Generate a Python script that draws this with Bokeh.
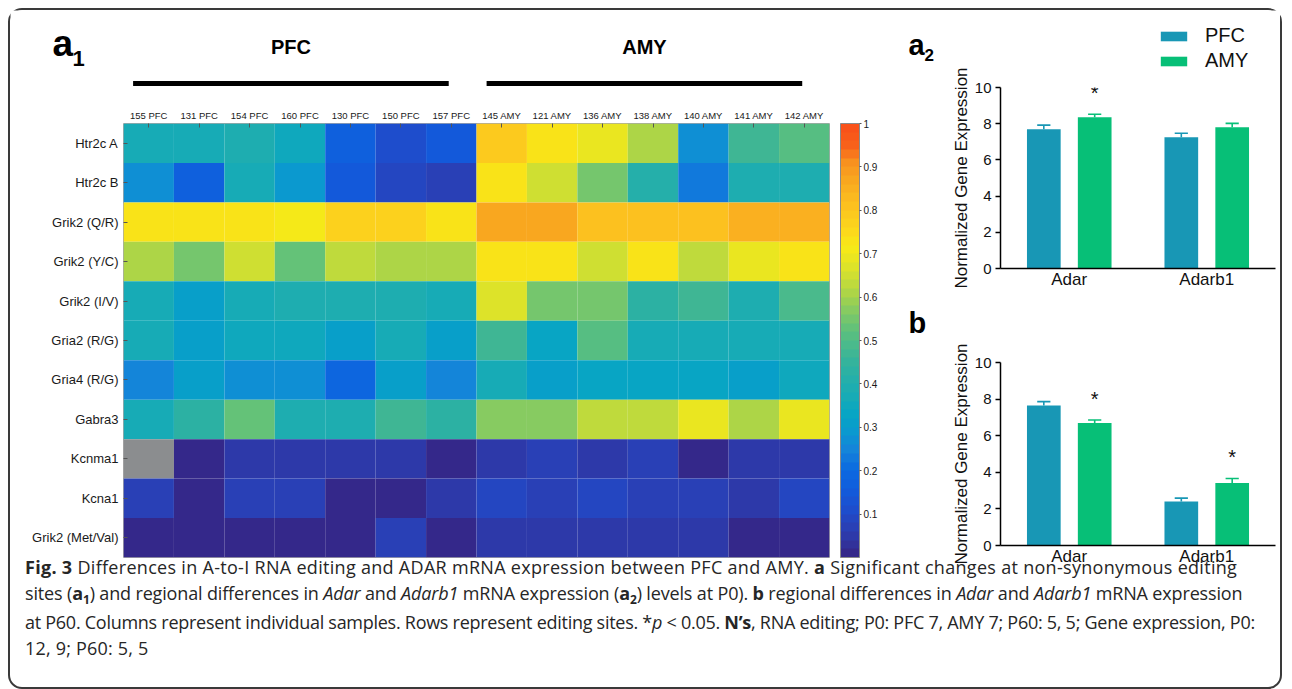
import numpy as np
from bokeh.plotting import figure
from bokeh.models import (ColumnDataSource, LinearColorMapper, ColorBar, FixedTicker, Range1d,
                          FactorRange, Label, Legend, LegendItem, Div, CustomJSTickFormatter)
from bokeh.transform import dodge
from bokeh.layouts import row, column
from bokeh.embed import file_html
from bokeh.resources import INLINE
from bokeh.core.properties import value

# ---------------- data ----------------
samples = ["155 PFC", "131 PFC", "154 PFC", "160 PFC", "130 PFC", "150 PFC", "157 PFC",
           "145 AMY", "121 AMY", "136 AMY", "138 AMY", "140 AMY", "141 AMY", "142 AMY"]
regions = ["PFC", "AMY"]
region_sizes = [7, 7]
sites = ["Htr2c A", "Htr2c B", "Grik2 (Q/R)", "Grik2 (Y/C)", "Grik2 (I/V)", "Gria2 (R/G)",
         "Gria4 (R/G)", "Gabra3", "Kcnma1", "Kcna1", "Grik2 (Met/Val)"]
nan = float("nan")
htr2c_a = [0.36, 0.36, 0.39, 0.35, 0.17, 0.10, 0.15, 0.79, 0.73, 0.68, 0.61, 0.27, 0.46, 0.50]
htr2c_b = [0.27, 0.16, 0.36, 0.28, 0.14, 0.09, 0.07, 0.73, 0.64, 0.55, 0.40, 0.23, 0.38, 0.38]
grik2_qr = [0.72, 0.72, 0.72, 0.70, 0.77, 0.77, 0.73, 0.87, 0.87, 0.81, 0.80, 0.81, 0.84, 0.84]
grik2_yc = [0.60, 0.54, 0.64, 0.53, 0.62, 0.60, 0.60, 0.72, 0.72, 0.64, 0.73, 0.62, 0.68, 0.72]
grik2_iv = [0.37, 0.31, 0.37, 0.38, 0.38, 0.38, 0.36, 0.67, 0.55, 0.55, 0.43, 0.47, 0.38, 0.48]
gria2_rg = [0.36, 0.31, 0.34, 0.35, 0.30, 0.36, 0.31, 0.46, 0.33, 0.50, 0.37, 0.37, 0.36, 0.36]
gria4_rg = [0.24, 0.31, 0.27, 0.27, 0.19, 0.31, 0.24, 0.36, 0.30, 0.33, 0.33, 0.32, 0.30, 0.35]
gabra3 = [0.37, 0.43, 0.52, 0.38, 0.38, 0.47, 0.43, 0.57, 0.58, 0.63, 0.63, 0.69, 0.60, 0.69]
kcnma1 = [nan, 0.01, 0.05, 0.05, 0.05, 0.05, 0.01, 0.04, 0.06, 0.04, 0.06, 0.01, 0.05, 0.04]
kcna1 = [0.06, 0.01, 0.06, 0.06, 0.01, 0.01, 0.05, 0.09, 0.06, 0.09, 0.06, 0.06, 0.05, 0.08]
grik2_metval = [0.01, 0.01, 0.01, 0.01, 0.01, 0.06, 0.01, 0.05, 0.05, 0.05, 0.05, 0.05, 0.01, 0.01]
editing_rows = [htr2c_a, htr2c_b, grik2_qr, grik2_yc, grik2_iv, gria2_rg, gria4_rg, gabra3,
                kcnma1, kcna1, grik2_metval]
colorbar_ticks = [0.1, 0.2, 0.3, 0.4, 0.5, 0.6, 0.7, 0.8, 0.9, 1.0]

genes = ["Adar", "Adarb1"]
p0_pfc = [7.70, 7.25]
p0_pfc_sem = [0.22, 0.22]
p0_amy = [8.35, 7.80]
p0_amy_sem = [0.17, 0.22]
p0_sig = [True, False]
p60_pfc = [7.65, 2.40]
p60_pfc_sem = [0.21, 0.19]
p60_amy = [6.70, 3.42]
p60_amy_sem = [0.16, 0.24]
p60_sig = [True, True]
bar_ticks = [0, 2, 4, 6, 8, 10]

# ---------------- style ----------------
FONT = "Liberation Sans"
PFC_COLOR = "#1897b5"
AMY_COLOR = "#07bf77"
anchors = [(0.00, "#34288a"), (0.05, "#2c3db0"), (0.10, "#1f4ccb"), (0.15, "#115bdc"),
           (0.20, "#0b6ce0"), (0.24, "#1582da"), (0.28, "#0c97d0"), (0.32, "#06a4c6"),
           (0.36, "#14aab8"), (0.40, "#22aeac"), (0.44, "#30b2a0"), (0.48, "#44b890"),
           (0.52, "#5cc07e"), (0.56, "#7cc868"), (0.60, "#a2d24e"), (0.64, "#c6dc38"),
           (0.68, "#e2e426"), (0.72, "#f8ea16"), (0.76, "#fcd71c"), (0.80, "#fcc81e"),
           (0.84, "#fbb820"), (0.88, "#f9a61f"), (0.92, "#f8901e"), (0.955, "#f8621a"),
           (1.00, "#f9521a")]


def hex2rgb(h):
    return np.array([int(h[i:i + 2], 16) for i in (1, 3, 5)], dtype=float)


pos = np.array([a[0] for a in anchors])
cols = np.array([hex2rgb(a[1]) for a in anchors])
palette = []
for lv in np.linspace(0, 1, 50):
    rgb = [np.interp(lv, pos, cols[:, k]) for k in range(3)]
    palette.append("#%02x%02x%02x" % tuple(int(round(c)) for c in rgb))

mapper = LinearColorMapper(palette=palette, low=0, high=1, nan_color="#8b8d8f")

# geometry of the heatmap figure (px)
HEAT_W, HEAT_L, HEAT_R = 870, 113, 50
n = len(samples)
colw = (HEAT_W - HEAT_L - HEAT_R) / n

# ---------------- header (a1, region bars) ----------------
head = figure(width=HEAT_W, height=96, frame_align=False,
              x_range=Range1d(-HEAT_L / colw, n + HEAT_R / colw), y_range=Range1d(0, 96),
              toolbar_location=None, output_backend="svg",
              min_border_left=0, min_border_right=0, min_border_top=0, min_border_bottom=0)
head.axis.visible = False
head.grid.visible = False
head.outline_line_color = None
starts = np.cumsum([0] + region_sizes[:-1])
ends = starts + np.array(region_sizes)
x0 = starts + 0.19
x1 = ends - 0.56
hsrc = ColumnDataSource(dict(x0=x0, x1=x1, xm=(x0 + x1) / 2, name=regions,
                             yl=[23] * len(regions), yt=[60] * len(regions)))
head.segment(x0="x0", y0="yl", x1="x1", y1="yl", source=hsrc, line_color="black", line_width=5)
head.text(x="xm", y="yt", text="name", source=hsrc, text_font=value(FONT),
          text_font_style="bold", text_font_size="20px", text_align="center",
          text_baseline="middle", text_color="black")
head.add_layout(Label(x=42, y=63, x_units="screen", y_units="screen", text="a",
                      text_font=FONT, text_font_style="bold", text_font_size="37px",
                      text_baseline="alphabetic", text_color="black"))
head.add_layout(Label(x=62, y=48, x_units="screen", y_units="screen", text="1",
                      text_font=FONT, text_font_style="bold", text_font_size="22px",
                      text_baseline="alphabetic", text_color="black"))

# ---------------- heatmap ----------------
xs, ys, vs = [], [], []
for site, vals in zip(sites, editing_rows):
    for s, v in zip(samples, vals):
        xs.append(s)
        ys.append(site)
        vs.append(v)
src = ColumnDataSource(dict(sample=xs, site=ys, val=np.array(vs, dtype=float)))

heat = figure(width=HEAT_W, height=466, x_range=FactorRange(*samples),
              y_range=FactorRange(*sites[::-1]), x_axis_location="above",
              toolbar_location=None, output_backend="svg",
              min_border_left=HEAT_L, min_border_right=HEAT_R, min_border_top=17,
              min_border_bottom=15)
heat.rect(x="sample", y="site", width=1, height=1, source=src,
          fill_color={"field": "val", "transform": mapper}, line_color=None)
heat.grid.visible = False
heat.outline_line_color = "#a8a8a8"
heat.xaxis.major_label_text_font = FONT
heat.xaxis.major_label_text_font_size = "9.5px"
heat.xaxis.major_label_text_color = "#1a1a1a"
heat.xaxis.major_label_standoff = 3
heat.xaxis.major_tick_in = 4
heat.xaxis.major_tick_out = 0
heat.xaxis.axis_line_color = None
heat.xaxis.major_tick_line_color = "#555555"
heat.yaxis.major_label_text_font = FONT
heat.yaxis.major_label_text_font_size = "13px"
heat.yaxis.major_label_text_color = "#1a1a1a"
heat.yaxis.major_label_standoff = 5
heat.yaxis.major_tick_in = 4
heat.yaxis.major_tick_out = 0
heat.yaxis.axis_line_color = None
heat.yaxis.major_tick_line_color = "#555555"

cbar = ColorBar(color_mapper=mapper, ticker=FixedTicker(ticks=colorbar_ticks),
                formatter=CustomJSTickFormatter(code="return tick >= 0.999 ? '1' : tick.toFixed(1);"),
                width=19, padding=0, margin=0, location=(11, 0), label_standoff=2,
                major_label_text_font=FONT, major_label_text_font_size="10px",
                major_label_text_color="#1a1a1a", major_tick_in=0, major_tick_out=2,
                major_tick_line_color="#555555", bar_line_color="#8a8a8a")
heat.add_layout(cbar, "right")


# ---------------- bar panels ----------------
def strip(height):
    s = figure(width=400, height=height, frame_align=False,
               x_range=Range1d(0, 400), y_range=Range1d(0, height),
               toolbar_location=None, output_backend="svg",
               min_border_left=0, min_border_right=0, min_border_top=0, min_border_bottom=0)
    s.axis.visible = False
    s.grid.visible = False
    s.outline_line_color = None
    return s


def panel_letter(s, letter, sub, baseline):
    s.add_layout(Label(x=28, y=baseline, x_units="screen", y_units="screen", text=letter,
                       text_font=FONT, text_font_style="bold", text_font_size="29px",
                       text_baseline="alphabetic", text_color="black"))
    if sub:
        s.add_layout(Label(x=44, y=baseline - 10, x_units="screen", y_units="screen", text=sub,
                           text_font=FONT, text_font_style="bold", text_font_size="17px",
                           text_baseline="alphabetic", text_color="black"))


def bar_panel(height, top, bottom, pfc, pfc_sem, amy, amy_sem, sig, margin=None):
    p = figure(width=400, height=height, x_range=FactorRange(*genes), y_range=Range1d(0, 10),
               toolbar_location=None, output_backend="svg",
               min_border_left=120, min_border_right=5, min_border_top=top,
               min_border_bottom=bottom, border_fill_color=None, background_fill_color=None)
    if margin is not None:
        p.margin = margin
    pfc_hi = [a + b for a, b in zip(pfc, pfc_sem)]
    amy_hi = [a + b for a, b in zip(amy, amy_sem)]
    s = ColumnDataSource(dict(gene=genes, pfc=pfc, amy=amy, pfc_hi=pfc_hi, amy_hi=amy_hi))
    off = 0.185
    cap = 0.048
    p.vbar(x=dodge("gene", -off, range=p.x_range), top="pfc", width=0.245, source=s,
           fill_color=PFC_COLOR, line_color=None)
    p.vbar(x=dodge("gene", off, range=p.x_range), top="amy", width=0.245, source=s,
           fill_color=AMY_COLOR, line_color=None)
    for o, lo, hi, c in [(-off, "pfc", "pfc_hi", PFC_COLOR), (off, "amy", "amy_hi", AMY_COLOR)]:
        p.segment(x0=dodge("gene", o, range=p.x_range), y0=lo,
                  x1=dodge("gene", o, range=p.x_range), y1=hi, source=s,
                  line_color=c, line_width=1.6)
        p.segment(x0=dodge("gene", o - cap, range=p.x_range), y0=hi,
                  x1=dodge("gene", o + cap, range=p.x_range), y1=hi, source=s,
                  line_color=c, line_width=1.6)
    sg = [g for g, f in zip(genes, sig) if f]
    sy = [h + 1.15 for h, f in zip(amy_hi, sig) if f]
    ssrc = ColumnDataSource(dict(gene=sg, y=sy, t=["*"] * len(sg)))
    p.text(x=dodge("gene", off, range=p.x_range), y="y", text="t", source=ssrc,
           text_font=value(FONT), text_font_size="20px", text_align="center",
           text_baseline="alphabetic", text_color="#111111")
    p.grid.visible = False
    p.outline_line_color = None
    p.yaxis.ticker = FixedTicker(ticks=bar_ticks)
    p.yaxis.minor_tick_line_color = None
    p.yaxis.major_tick_in = 0
    p.yaxis.major_tick_out = 5
    p.yaxis.major_tick_line_width = 1.5
    p.yaxis.major_tick_line_color = "black"
    p.yaxis.axis_line_width = 1.5
    p.yaxis.axis_line_color = "black"
    p.yaxis.major_label_text_font = FONT
    p.yaxis.major_label_text_font_size = "15px"
    p.yaxis.major_label_text_color = "#111111"
    p.yaxis.major_label_standoff = 4
    p.yaxis.axis_label = "Normalized Gene Expression"
    p.yaxis.axis_label_text_font = FONT
    p.yaxis.axis_label_text_font_size = "17px"
    p.yaxis.axis_label_text_font_style = "normal"
    p.yaxis.axis_label_text_color = "#111111"
    p.yaxis.axis_label_standoff = 1
    p.xaxis.major_tick_line_color = None
    p.xaxis.major_tick_out = 0
    p.xaxis.major_tick_in = 0
    p.xaxis.axis_line_width = 1.5
    p.xaxis.axis_line_color = "black"
    p.xaxis.major_label_text_font = FONT
    p.xaxis.major_label_text_font_size = "17px"
    p.xaxis.major_label_text_color = "#111111"
    p.xaxis.major_label_standoff = 1
    return p


a2_head = strip(62)
panel_letter(a2_head, "a", "2", 28)
# zero-height swatch carriers for the legend (nothing visible is drawn by them)
leg_src = ColumnDataSource(dict(x=[0, 0], top=[0, 0]))
leg_r = [a2_head.vbar(x="x", top="top", bottom="top", width=1, source=leg_src,
                      fill_color=c, line_color=None)
         for c in (PFC_COLOR, AMY_COLOR)]
legend = Legend(items=[LegendItem(label=lab, renderers=[r]) for lab, r in zip(regions, leg_r)],
                location=(277, 0), glyph_width=33, glyph_height=12,
                label_text_font=FONT, label_text_font_size="20px",
                label_text_color="#111111", label_standoff=15, spacing=2,
                label_height=23, padding=0, margin=0, border_line_color=None,
                background_fill_alpha=0)
a2_head.add_layout(legend)
a2 = bar_panel(240, 27, 32, p0_pfc, p0_pfc_sem, p0_amy, p0_amy_sem, p0_sig,
               margin=(-12, 0, 0, 0))

b_head = strip(38)
panel_letter(b_head, "b", None, 16)
bp = bar_panel(234, 24, 27, p60_pfc, p60_pfc_sem, p60_amy, p60_amy_sem, p60_sig)

# ---------------- caption ----------------
sub_style = "font-size:12px;position:relative;top:4px;font-weight:bold"
line_style = "display:block;letter-spacing:%.2fpx"
caption_html = (
    '<div style="font-family:\'Open Sans\';font-size:18px;line-height:26px;color:#262626;'
    'margin-top:-23px;padding-left:10px;white-space:nowrap">'
    '<span style="' + line_style % 0.3 + '">'
    '<b>Fig. 3</b> Differences in A-to-I RNA editing and ADAR mRNA expression between PFC and AMY. '
    '<b>a</b> Significant changes at non-synonymous editing</span>'
    '<span style="' + line_style % -0.15 + '">'
    'sites (<b>a</b><span style="' + sub_style + '">1</span>) and regional differences in '
    '<i>Adar</i> and <i>Adarb1</i> mRNA expression (<b>a</b><span style="' + sub_style +
    '">2</span>) levels at P0). <b>b</b> regional differences in <i>Adar</i> and <i>Adarb1</i> '
    'mRNA expression</span>'
    '<span style="' + line_style % -0.27 + '">'
    'at P60. Columns represent individual samples. Rows represent editing sites. '
    '*<i>p</i> &lt; 0.05. <b>N\u2019s</b>, RNA editing; P0: PFC 7, AMY 7; P60: 5, 5; '
    'Gene expression, P0:</span>'
    '<span style="' + line_style % 0.2 + '">12, 9; P60: 5, 5</span></div>'
)
caption = Div(text=caption_html, width=1270, height=105)

left = column(head, heat)
right = column(a2_head, a2, b_head, bp)
page = column(row(left, right), caption, width=1274, margin=(8, 0, 0, 8),
              styles={"border": "2px solid #3a3a3a", "border-radius": "14px"})

open("out.html", "w", encoding="utf-8").write(file_html(page, INLINE))
